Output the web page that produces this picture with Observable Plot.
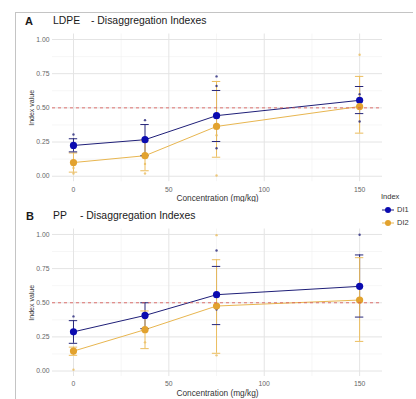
<!DOCTYPE html>
<html><head><meta charset="utf-8">
<script src="https://cdn.jsdelivr.net/npm/d3@7"></script>
<script src="https://cdn.jsdelivr.net/npm/@observablehq/plot@0.6"></script>
<style>
body{margin:0;width:416px;height:399px;overflow:hidden;position:relative;font-family:"Liberation Sans",Arial,sans-serif;background:#fff}
.frame-top{position:absolute;left:15px;top:12px;width:398px;height:0;border-top:1px solid #c4c4c4}
.frame-left{position:absolute;left:15px;top:12px;width:0;height:390px;border-left:1px solid #c4c4c4}
.panel{position:absolute;left:0}
.title{position:absolute;font-size:10.4px;color:#1a1a1a;white-space:nowrap;line-height:12px}
.tag{font-weight:bold;font-size:11px}
.legend{position:absolute;left:381px;top:192px;font-size:7.5px;color:#333;white-space:nowrap}
.legend .item{display:flex;align-items:center;height:13px}
.legend svg{margin-right:2px}
</style>
</head><body>
<div class="frame-top"></div><div class="frame-left"></div>
<div id="panelA" class="panel" style="top:0"></div>
<div id="panelB" class="panel" style="top:202px"></div>
<div class="title tag" style="left:25px;top:15px">A</div>
<div class="title" style="left:53px;top:15px">LDPE</div>
<div class="title" style="left:91px;top:15px">- Disaggregation Indexes</div>
<div class="title tag" style="left:26px;top:210px">B</div>
<div class="title" style="left:53px;top:210px">PP</div>
<div class="title" style="left:80px;top:210px">- Disaggregation Indexes</div>
<div class="legend" id="legend"></div>
<script>
// ---- data ----
const concentrations = [0, 37.5, 75, 150];
const indexNames = ["DI1", "DI2"];
const xTicks = [0, 50, 100, 150];
const xMinor = [25, 75, 125];
const yTicks = [0, 0.25, 0.5, 0.75, 1];
const yMinor = [0.125, 0.375, 0.625, 0.875];
const threshold = 0.5;
const xTitle = "Concentration (mg/kg)";
const yTitle = "Index value";

// Panel A: LDPE
const ldpeMeanDI1 = [0.225, 0.267, 0.443, 0.555];
const ldpeLowDI1  = [0.178, 0.150, 0.254, 0.458];
const ldpeHighDI1 = [0.274, 0.378, 0.627, 0.656];
const ldpeMeanDI2 = [0.100, 0.150, 0.364, 0.510];
const ldpeLowDI2  = [0.030, 0.040, 0.139, 0.315];
const ldpeHighDI2 = [0.170, 0.260, 0.693, 0.730];
const ldpeDotsDI1 = [[0, 0.305], [37.5, 0.41], [75, 0.73], [75, 0.66], [75, 0.205], [150, 0.40], [150, 0.60]];
const ldpeDotsDI2 = [[0, 0.02], [0, 0.06], [37.5, 0.02], [37.5, 0.09], [75, 0.005], [75, 0.30], [150, 0.888]];

// Panel B: PP
const ppMeanDI1 = [0.287, 0.407, 0.559, 0.620];
const ppLowDI1  = [0.203, 0.310, 0.340, 0.395];
const ppHighDI1 = [0.369, 0.500, 0.766, 0.850];
const ppMeanDI2 = [0.146, 0.303, 0.476, 0.520];
const ppLowDI2  = [0.115, 0.164, 0.130, 0.217];
const ppHighDI2 = [0.175, 0.440, 0.815, 0.830];
const ppDotsDI1 = [[0, 0.40], [75, 0.883], [75, 0.45], [150, 0.998]];
const ppDotsDI2 = [[0, 0.01], [37.5, 0.21], [75, 0.995], [75, 0.115], [150, 0.50]];

// ---- styling ----
const lineColor = {DI1: "#1f1f78", DI2: "#e8b650"};
const pointColor = {DI1: "#0b0bb0", DI2: "#e2a22e"};
const barColor = {DI1: "#26267a", DI2: "#ebbd5e"};

function rowsFor(means, lows, highs, name) {
  return concentrations.map((c, i) => ({conc: c, mean: means[i], lo: lows[i], hi: highs[i], index: name}));
}
function dotsFor(pairs, name) {
  return pairs.map(([c, v]) => ({conc: c, value: v, index: name}));
}

function panel(rows, dots, height, marginTop, marginBottom) {
  const cap = 2.2;
  return Plot.plot({
    width: 385, height, marginLeft: 52, marginRight: 3, marginTop, marginBottom,
    style: {background: "transparent", fontFamily: "'Liberation Sans', Arial, sans-serif", fontSize: "6.8px", color: "#555"},
    x: {domain: [-11, 162]},
    y: {domain: [-0.04, 1.04]},
    marks: [
      Plot.gridX(xMinor, {stroke: "#f0f0f0", strokeOpacity: 1, strokeWidth: 0.6}),
      Plot.gridY(yMinor, {stroke: "#f0f0f0", strokeOpacity: 1, strokeWidth: 0.6}),
      Plot.gridX(xTicks, {stroke: "#e4e4e4", strokeOpacity: 1}),
      Plot.gridY(yTicks, {stroke: "#e4e4e4", strokeOpacity: 1}),
      Plot.axisX(xTicks, {tickSize: 0, tickPadding: 5, fill: "#666", label: null}),
      Plot.axisY(yTicks, {tickSize: 0, tickPadding: 3, tickFormat: d3.format(".2f"), fill: "#666", label: null}),
      Plot.text([xTitle], {frameAnchor: "bottom", textAnchor: "middle", lineAnchor: "middle", dy: 16.8, fontSize: 8.3, fill: "#333"}),
      Plot.text([yTitle], {frameAnchor: "left", textAnchor: "middle", lineAnchor: "middle", rotate: -90, dx: -20.5, fontSize: 7, fill: "#333"}),
      Plot.line(rows, {x: "conc", y: "mean", z: "index", stroke: d => lineColor[d.index], strokeWidth: 1}),
      Plot.ruleX(rows, {x: "conc", y1: "lo", y2: "hi", stroke: d => barColor[d.index], strokeWidth: 1}),
      Plot.ruleY(rows, {y: "hi", x1: d => d.conc - cap, x2: d => d.conc + cap, stroke: d => barColor[d.index], strokeWidth: 1}),
      Plot.ruleY(rows, {y: "lo", x1: d => d.conc - cap, x2: d => d.conc + cap, stroke: d => barColor[d.index], strokeWidth: 1}),
      Plot.dot(dots, {x: "conc", y: "value", r: 1.2, fill: d => barColor[d.index], fillOpacity: 0.8}),
      Plot.dot(rows, {x: "conc", y: "mean", r: 3.6, fill: d => pointColor[d.index]}),
      Plot.ruleY([threshold], {stroke: "#d9534f", strokeDasharray: "3,3", strokeWidth: 1, strokeOpacity: 0.8})
    ]
  });
}

const rowsA = [...rowsFor(ldpeMeanDI1, ldpeLowDI1, ldpeHighDI1, indexNames[0]), ...rowsFor(ldpeMeanDI2, ldpeLowDI2, ldpeHighDI2, indexNames[1])];
const dotsA = [...dotsFor(ldpeDotsDI1, indexNames[0]), ...dotsFor(ldpeDotsDI2, indexNames[1])];
const rowsB = [...rowsFor(ppMeanDI1, ppLowDI1, ppHighDI1, indexNames[0]), ...rowsFor(ppMeanDI2, ppLowDI2, ppHighDI2, indexNames[1])];
const dotsB = [...dotsFor(ppDotsDI1, indexNames[0]), ...dotsFor(ppDotsDI2, indexNames[1])];

document.getElementById("panelA").append(panel(rowsA, dotsA, 202, 33.5, 20.8));
document.getElementById("panelB").append(panel(rowsB, dotsB, 197, 26.5, 23));

// legend
const leg = document.getElementById("legend");
const t = document.createElement("div"); t.textContent = "Index"; t.style.marginBottom = "2px"; leg.append(t);
indexNames.forEach(n => {
  const it = document.createElement("div"); it.className = "item";
  it.innerHTML = `<svg width="14" height="10"><line x1="1" x2="13" y1="5" y2="5" stroke="${lineColor[n]}" stroke-width="1"/><circle cx="7" cy="5" r="3" fill="${pointColor[n]}"/></svg><span>${n}</span>`;
  leg.append(it);
});
</script>
</body></html>
